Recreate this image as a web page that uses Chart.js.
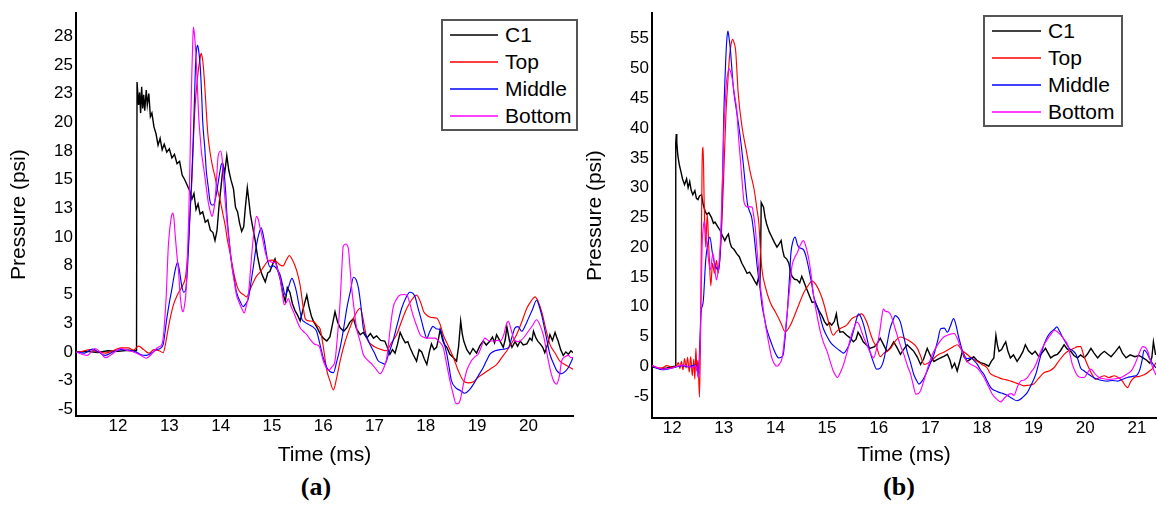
<!DOCTYPE html>
<html>
<head>
<meta charset="utf-8">
<script src="https://cdn.jsdelivr.net/npm/chart.js@4.4.1/dist/chart.umd.min.js"></script>
<style>
  html, body { margin: 0; padding: 0; background: #fff; }
  #wrap { position: relative; width: 1157px; height: 506px; overflow: hidden; font-family: "Liberation Sans", Arial, sans-serif; }
  canvas { position: absolute; top: 0; }
  .legend { position: absolute; border: 2px solid #555; background: #fff; box-sizing: border-box; }
  .legend .row { display: flex; align-items: center; height: 27px; font-size: 21px; color: #000; }
  .legend .swatch { height: 2px; margin-right: 7px; }
  .panel-label { position: absolute; font-family: "Liberation Serif", "Times New Roman", serif; font-weight: bold; font-size: 26px; transform: translate(-50%, -50%); }
</style>
</head>
<body>
<div id="wrap">
  <canvas id="chartA" width="580" height="470" style="left:0px"></canvas>
  <canvas id="chartB" width="577" height="470" style="left:580px"></canvas>
  <div class="legend" id="legendA" style="left:441px; top:19px; width:137px; height:112px;"></div>
  <div class="legend" id="legendB" style="left:983px; top:15px; width:140px; height:112px;"></div>
  <div class="panel-label" style="left:316px; top:487px;">(a)</div>
  <div class="panel-label" style="left:899px; top:487px;">(b)</div>
</div>
<script>
// =========================
// SERIES NAMES / COLOURS
// =========================
const seriesNames = ["C1", "Top", "Middle", "Bottom"];
const seriesColors = ["#000000", "#ff0000", "#0000ff", "#ff00ff"];

// =========================
// PANEL (a) DATA  [time ms, pressure psi]
// =========================
const aC1 = [[11.18,0.0],[11.4,0.05],[11.6,-0.05],[11.8,0.1],[12.0,0.05],[12.2,0.15],[12.36,0.1],[12.37,23.5],[12.40,21.5],[12.42,22.6],[12.44,20.8],[12.46,23.1],[12.48,21.2],[12.50,22.4],[12.52,21.0],[12.55,22.8],[12.57,21.5],[12.60,22.5],[12.63,20.5],[12.66,20.8],[12.70,19.6],[12.74,19.0],[12.78,18.0],[12.82,18.6],[12.86,17.6],[12.90,18.1],[12.95,17.4],[13.00,17.7],[13.05,16.9],[13.10,17.2],[13.15,16.4],[13.20,16.6],[13.25,15.4],[13.30,15.0],[13.35,14.5],[13.40,14.0],[13.44,13.3],[13.48,13.8],[13.52,12.4],[13.56,12.9],[13.60,12.0],[13.65,12.2],[13.70,11.3],[13.75,11.5],[13.80,10.6],[13.85,10.4],[13.89,9.7],[13.93,10.6],[13.97,12.8],[14.01,14.5],[14.05,16.2],[14.08,15.6],[14.12,17.1],[14.16,15.8],[14.20,15.0],[14.25,14.2],[14.29,12.6],[14.33,12.2],[14.37,11.2],[14.41,10.5],[14.45,10.9],[14.48,12.5],[14.52,14.3],[14.55,13.2],[14.58,12.0],[14.62,11.0],[14.67,9.8],[14.72,8.3],[14.77,7.2],[14.82,6.6],[14.87,6.1],[14.92,6.9],[14.96,7.0],[15.01,7.6],[15.06,8.1],[15.11,7.2],[15.16,6.4],[15.21,5.2],[15.26,4.4],[15.30,5.6],[15.35,5.2],[15.40,4.2],[15.45,3.6],[15.50,3.2],[15.55,2.7],[15.60,3.6],[15.64,4.3],[15.68,4.95],[15.72,4.0],[15.77,3.1],[15.81,2.66],[15.87,2.2],[15.94,1.6],[16.00,1.2],[16.07,0.95],[16.13,1.3],[16.18,2.4],[16.23,3.5],[16.28,2.6],[16.33,2.1],[16.40,1.8],[16.46,2.1],[16.52,2.6],[16.59,2.9],[16.65,2.0],[16.72,1.5],[16.78,1.7],[16.85,1.2],[16.92,1.6],[16.98,1.2],[17.04,1.4],[17.12,1.0],[17.20,0.95],[17.25,0.4],[17.30,-0.2],[17.35,0.2],[17.40,-0.1],[17.45,0.7],[17.50,1.7],[17.55,1.2],[17.60,0.8],[17.65,0.9],[17.69,0.4],[17.75,-0.2],[17.82,-0.8],[17.87,0.2],[17.92,0.0],[17.97,-0.6],[18.02,-1.1],[18.07,0.0],[18.11,0.7],[18.16,0.2],[18.21,0.4],[18.25,1.2],[18.28,1.95],[18.33,1.0],[18.37,0.6],[18.41,0.4],[18.47,-0.2],[18.54,-0.5],[18.60,-0.8],[18.64,0.5],[18.68,2.7],[18.71,1.6],[18.74,0.95],[18.80,0.2],[18.86,-0.2],[18.92,0.3],[18.99,-0.1],[19.05,0.5],[19.12,0.95],[19.18,0.6],[19.25,0.95],[19.30,1.3],[19.34,0.8],[19.38,1.5],[19.44,1.0],[19.51,0.4],[19.55,1.1],[19.58,2.2],[19.63,1.0],[19.68,0.4],[19.74,0.9],[19.79,0.5],[19.84,0.95],[19.90,0.6],[19.97,0.7],[20.03,1.2],[20.07,1.0],[20.10,1.8],[20.15,1.2],[20.19,0.9],[20.23,0.7],[20.28,0.4],[20.32,-0.06],[20.37,0.6],[20.42,1.5],[20.47,1.0],[20.52,1.7],[20.55,1.3],[20.58,0.95],[20.63,0.2],[20.68,-0.3],[20.73,0.0],[20.78,-0.2],[20.83,0.1],[20.87,-0.06]];

const aTop = [[11.18,0.0],[11.3,0.05],[11.45,0.2],[11.6,0.0],[11.75,-0.1],[11.9,0.1],[12.05,0.35],[12.2,0.35],[12.3,0.15],[12.4,0.5],[12.5,0.2],[12.6,-0.1],[12.7,0.2],[12.8,0.1],[12.88,-0.06],[12.93,0.8],[12.98,2.1],[13.03,3.2],[13.08,4.1],[13.15,4.9],[13.21,5.4],[13.26,5.8],[13.31,6.4],[13.34,7.5],[13.37,9.2],[13.40,12.0],[13.44,15.0],[13.47,18.5],[13.50,21.3],[13.54,23.5],[13.57,24.7],[13.60,25.6],[13.62,26.0],[13.64,25.7],[13.66,25.0],[13.69,23.2],[13.72,21.0],[13.75,19.0],[13.79,17.5],[13.84,16.2],[13.89,15.25],[13.94,14.1],[13.99,13.2],[14.04,12.1],[14.09,11.0],[14.13,9.8],[14.18,8.7],[14.23,7.5],[14.28,6.4],[14.33,5.6],[14.38,5.2],[14.44,5.0],[14.51,4.8],[14.57,5.4],[14.64,6.1],[14.70,6.6],[14.77,6.95],[14.85,7.5],[14.93,7.95],[15.00,8.0],[15.08,7.9],[15.15,7.6],[15.22,7.5],[15.28,8.0],[15.34,8.4],[15.40,8.0],[15.45,7.5],[15.50,6.8],[15.55,5.8],[15.60,4.2],[15.65,2.9],[15.72,2.7],[15.81,2.66],[15.88,2.3],[15.94,2.0],[16.0,0.5],[16.07,-1.6],[16.13,-2.5],[16.20,-3.3],[16.26,-2.3],[16.33,-0.77],[16.42,0.8],[16.52,2.1],[16.62,3.2],[16.72,3.8],[16.78,2.8],[16.85,1.2],[16.95,0.6],[17.04,0.37],[17.14,0.2],[17.23,0.1],[17.33,0.8],[17.43,1.5],[17.53,2.7],[17.63,3.8],[17.72,4.5],[17.82,4.95],[17.90,4.3],[17.96,3.5],[18.02,3.2],[18.11,3.0],[18.21,2.95],[18.28,2.4],[18.34,1.5],[18.44,0.5],[18.54,-0.5],[18.63,-1.6],[18.73,-2.5],[18.83,-2.7],[18.93,-2.6],[19.02,-2.2],[19.12,-1.9],[19.25,-1.5],[19.38,-1.1],[19.48,-0.5],[19.58,0.1],[19.68,0.8],[19.77,1.5],[19.87,2.6],[19.97,3.8],[20.05,4.4],[20.13,4.8],[20.19,4.4],[20.26,3.5],[20.34,2.0],[20.42,0.66],[20.52,-0.1],[20.61,-0.77],[20.71,-1.1],[20.81,-1.35],[20.87,-1.5]];

const aMid = [[11.18,0.0],[11.35,-0.1],[11.5,0.25],[11.65,-0.1],[11.75,-0.3],[11.9,0.0],[12.05,0.2],[12.2,0.15],[12.35,0.0],[12.45,-0.25],[12.55,-0.3],[12.65,-0.1],[12.75,0.2],[12.82,0.3],[12.88,0.66],[12.95,2.9],[13.00,4.3],[13.05,5.5],[13.10,6.8],[13.16,7.8],[13.20,7.0],[13.24,5.8],[13.28,5.2],[13.32,5.4],[13.36,7.8],[13.39,10.7],[13.43,14.5],[13.46,17.8],[13.49,22.0],[13.51,25.0],[13.53,26.3],[13.55,26.7],[13.57,26.3],[13.60,25.0],[13.63,22.4],[13.65,20.1],[13.69,17.8],[13.72,15.8],[13.76,14.3],[13.79,13.2],[13.83,12.8],[13.86,12.8],[13.91,13.6],[13.95,14.7],[13.99,15.8],[14.02,16.4],[14.05,16.2],[14.07,15.5],[14.10,13.8],[14.12,12.1],[14.17,9.6],[14.22,7.5],[14.27,6.2],[14.31,5.2],[14.38,4.4],[14.44,3.95],[14.49,4.2],[14.54,4.65],[14.59,6.0],[14.64,7.5],[14.68,8.8],[14.72,9.8],[14.76,10.5],[14.79,10.8],[14.83,10.2],[14.87,9.2],[14.91,8.1],[14.96,7.4],[15.03,7.5],[15.10,7.2],[15.16,6.7],[15.21,5.8],[15.26,4.95],[15.32,5.6],[15.39,6.4],[15.44,5.9],[15.48,5.2],[15.53,4.0],[15.58,2.9],[15.64,2.6],[15.71,2.4],[15.79,2.2],[15.87,1.8],[15.94,0.6],[16.0,-0.5],[16.07,-1.35],[16.13,-1.7],[16.20,-1.8],[16.26,-0.9],[16.33,0.37],[16.40,2.1],[16.46,3.8],[16.53,5.3],[16.59,6.5],[16.64,6.3],[16.69,5.5],[16.74,3.8],[16.78,2.1],[16.85,1.3],[16.91,0.66],[17.0,-0.1],[17.07,-0.77],[17.14,-0.95],[17.20,-1.06],[17.28,-0.1],[17.36,0.95],[17.45,2.5],[17.53,3.8],[17.61,4.7],[17.69,5.2],[17.75,5.1],[17.79,4.8],[17.85,3.8],[17.92,2.66],[17.97,1.8],[18.02,1.2],[18.08,1.8],[18.14,2.23],[18.21,2.0],[18.28,1.95],[18.35,0.9],[18.41,-0.2],[18.46,-1.5],[18.50,-2.5],[18.58,-3.1],[18.67,-3.35],[18.76,-3.6],[18.85,-3.3],[18.93,-2.8],[19.02,-2.1],[19.12,-1.35],[19.18,-0.8],[19.25,-0.2],[19.35,0.1],[19.45,0.2],[19.53,0.25],[19.61,0.37],[19.68,1.3],[19.74,2.1],[19.80,2.2],[19.87,1.8],[19.94,2.3],[20.0,2.9],[20.08,3.7],[20.16,4.5],[20.21,4.0],[20.26,3.2],[20.34,1.5],[20.42,-0.2],[20.49,-1.0],[20.55,-1.6],[20.65,-1.9],[20.72,-1.7],[20.78,-1.35],[20.83,-0.9],[20.87,-0.5]];

const aBot = [[11.18,0.0],[11.3,-0.2],[11.4,-0.3],[11.55,0.3],[11.65,0.0],[11.75,-0.5],[11.85,-0.3],[12.0,0.2],[12.05,0.3],[12.2,0.1],[12.3,0.0],[12.45,-0.3],[12.55,-0.55],[12.65,-0.2],[12.75,0.3],[12.8,0.45],[12.85,0.6],[12.88,1.2],[12.91,2.8],[12.94,4.95],[12.96,7.2],[12.98,9.2],[13.01,10.8],[13.03,11.5],[13.05,12.0],[13.07,12.1],[13.09,11.6],[13.11,10.4],[13.14,8.8],[13.18,6.95],[13.21,5.0],[13.24,3.8],[13.27,3.5],[13.30,4.2],[13.32,4.95],[13.35,8.0],[13.38,12.1],[13.40,16.0],[13.42,20.7],[13.44,24.5],[13.46,27.5],[13.47,28.3],[13.49,27.6],[13.52,25.8],[13.55,22.8],[13.57,20.7],[13.60,18.8],[13.63,17.25],[13.67,16.0],[13.70,15.0],[13.76,13.0],[13.80,12.2],[13.83,11.8],[13.86,12.2],[13.89,13.2],[13.92,15.0],[13.95,17.0],[14.0,17.5],[14.03,16.8],[14.05,15.5],[14.08,13.6],[14.12,11.5],[14.17,9.4],[14.22,7.5],[14.27,6.0],[14.31,4.95],[14.36,4.3],[14.41,3.8],[14.46,3.4],[14.50,4.0],[14.54,4.95],[14.58,7.0],[14.62,9.2],[14.66,10.8],[14.70,11.8],[14.73,11.6],[14.76,11.0],[14.82,9.8],[14.87,8.7],[14.92,8.0],[14.96,7.9],[15.01,7.8],[15.06,7.8],[15.11,7.2],[15.16,6.4],[15.20,5.2],[15.24,4.1],[15.28,4.3],[15.32,4.65],[15.37,4.0],[15.42,3.5],[15.48,2.8],[15.55,2.1],[15.61,1.8],[15.68,1.5],[15.76,1.0],[15.84,0.66],[15.92,0.5],[16.0,-0.77],[16.05,-1.3],[16.10,-1.6],[16.17,-1.3],[16.23,-0.77],[16.28,1.5],[16.33,4.4],[16.36,7.0],[16.39,9.2],[16.44,9.4],[16.49,9.0],[16.52,7.5],[16.55,5.8],[16.60,3.8],[16.65,2.1],[16.72,0.9],[16.78,-0.2],[16.86,-0.7],[16.95,-1.06],[17.03,-1.5],[17.11,-1.9],[17.18,-1.4],[17.24,-0.5],[17.30,1.8],[17.36,3.8],[17.43,4.6],[17.50,4.95],[17.57,5.0],[17.63,4.95],[17.69,4.2],[17.75,3.2],[17.82,2.3],[17.89,1.5],[17.95,1.3],[18.02,1.2],[18.10,1.2],[18.18,1.2],[18.26,0.9],[18.34,0.37],[18.40,-0.9],[18.47,-2.5],[18.53,-3.6],[18.59,-4.5],[18.63,-4.5],[18.67,-4.2],[18.73,-2.9],[18.80,-1.6],[18.89,-0.77],[18.96,-0.4],[19.02,-0.2],[19.08,0.4],[19.15,1.2],[19.22,1.0],[19.32,0.95],[19.40,1.0],[19.45,0.95],[19.52,1.5],[19.57,2.4],[19.61,2.66],[19.66,2.0],[19.71,1.2],[19.78,0.9],[19.84,0.95],[19.92,1.3],[20.0,1.8],[20.08,2.3],[20.16,2.8],[20.22,2.4],[20.29,1.5],[20.34,0.4],[20.39,-0.77],[20.44,-1.8],[20.49,-2.5],[20.55,-2.8],[20.60,-2.2],[20.65,-0.77],[20.72,-0.4],[20.78,-0.3],[20.83,-0.5],[20.87,-0.5]];

// =========================
// PANEL (b) DATA  [time ms, pressure psi]
// =========================
const bC1 = [[11.61,-0.1],[11.75,-0.4],[11.9,-0.3],[12.0,-0.1],[12.06,0.0],[12.07,37.5],[12.08,39.0],[12.09,37.6],[12.11,35.4],[12.14,33.8],[12.17,32.7],[12.20,31.5],[12.24,30.5],[12.28,31.5],[12.31,30.0],[12.34,31.0],[12.37,29.5],[12.40,28.8],[12.44,29.5],[12.47,28.2],[12.50,28.0],[12.53,28.6],[12.57,28.8],[12.60,27.2],[12.64,26.0],[12.67,25.5],[12.71,25.8],[12.76,25.0],[12.80,24.0],[12.83,24.2],[12.88,23.5],[12.93,22.8],[12.97,22.0],[13.02,21.1],[13.06,21.8],[13.09,22.2],[13.12,20.8],[13.15,20.0],[13.20,19.6],[13.25,18.9],[13.30,18.4],[13.35,17.3],[13.40,16.5],[13.45,15.6],[13.50,15.8],[13.55,15.1],[13.60,14.3],[13.64,13.7],[13.67,14.8],[13.70,14.0],[13.715,20.0],[13.725,27.5],[13.77,26.7],[13.80,25.0],[13.83,23.9],[13.88,22.6],[13.93,21.7],[13.98,20.8],[14.03,20.0],[14.07,20.5],[14.11,21.1],[14.14,19.5],[14.17,18.4],[14.22,18.0],[14.26,17.3],[14.29,16.0],[14.32,15.1],[14.37,14.6],[14.42,14.5],[14.47,14.0],[14.51,15.1],[14.56,14.0],[14.61,12.9],[14.66,11.8],[14.71,10.7],[14.76,10.8],[14.80,10.2],[14.85,9.2],[14.90,8.5],[14.95,7.5],[15.0,6.9],[15.05,7.3],[15.09,6.9],[15.14,7.5],[15.18,8.8],[15.21,7.0],[15.25,5.7],[15.31,5.8],[15.38,5.2],[15.44,4.8],[15.51,4.1],[15.56,4.5],[15.60,5.7],[15.65,5.0],[15.70,4.1],[15.77,3.5],[15.83,3.0],[15.92,3.3],[15.97,3.8],[16.03,4.7],[16.10,3.5],[16.16,2.5],[16.22,3.0],[16.29,4.1],[16.35,3.2],[16.42,2.0],[16.48,2.8],[16.55,3.6],[16.62,3.0],[16.68,2.5],[16.75,1.5],[16.81,0.3],[16.87,1.2],[16.94,3.0],[17.0,1.8],[17.07,0.8],[17.13,1.1],[17.20,1.4],[17.27,1.7],[17.33,2.0],[17.38,1.0],[17.42,-0.3],[17.47,0.5],[17.52,-0.8],[17.57,0.8],[17.62,2.5],[17.66,1.8],[17.71,0.8],[17.78,1.2],[17.84,1.6],[17.90,1.0],[17.97,0.6],[18.05,0.4],[18.13,0.0],[18.18,0.8],[18.23,1.4],[18.27,5.2],[18.30,3.5],[18.33,2.5],[18.38,2.8],[18.42,3.5],[18.46,4.1],[18.50,2.6],[18.55,1.4],[18.61,1.9],[18.68,0.8],[18.74,1.6],[18.79,2.4],[18.84,3.6],[18.90,2.6],[18.97,2.0],[19.03,2.5],[19.10,1.6],[19.16,2.2],[19.23,3.0],[19.28,2.2],[19.33,1.4],[19.40,1.8],[19.46,2.0],[19.52,2.6],[19.59,3.6],[19.65,2.9],[19.72,2.5],[19.78,1.8],[19.85,1.4],[19.91,1.9],[19.98,1.4],[20.04,2.0],[20.11,3.0],[20.17,2.2],[20.24,1.4],[20.30,2.0],[20.37,2.5],[20.44,2.0],[20.50,1.6],[20.58,2.4],[20.66,3.3],[20.72,2.2],[20.79,1.4],[20.87,1.9],[20.96,1.6],[21.04,1.8],[21.12,1.4],[21.19,1.0],[21.25,0.5],[21.29,1.5],[21.32,4.1],[21.36,2.0],[21.37,2.0]];

const bTop = [[11.61,0.2],[11.7,-0.2],[11.8,-0.3],[11.9,0.1],[12.0,-0.2],[12.08,0.0],[12.12,0.6],[12.15,-0.4],[12.18,0.8],[12.21,-0.6],[12.24,1.3],[12.27,-0.3],[12.30,1.5],[12.33,-1.0],[12.36,1.6],[12.39,-1.6],[12.42,1.2],[12.44,-2.2],[12.46,3.0],[12.48,-0.8],[12.50,1.0],[12.53,-5.2],[12.55,5.8],[12.58,33.8],[12.60,36.8],[12.62,27.7],[12.65,20.0],[12.68,25.5],[12.71,20.0],[12.75,13.5],[12.78,17.3],[12.82,15.6],[12.86,17.8],[12.89,15.6],[12.94,20.0],[12.99,29.9],[13.04,42.0],[13.08,48.0],[13.11,51.9],[13.14,54.0],[13.17,54.9],[13.20,54.3],[13.23,53.0],[13.28,45.8],[13.35,40.4],[13.43,36.5],[13.51,32.7],[13.59,29.6],[13.64,26.5],[13.68,23.9],[13.71,19.5],[13.74,16.2],[13.80,13.5],[13.90,10.7],[14.0,9.1],[14.1,7.4],[14.19,5.8],[14.29,6.9],[14.42,9.6],[14.55,12.4],[14.63,13.5],[14.71,14.3],[14.80,13.5],[14.87,12.2],[14.93,10.7],[15.03,7.4],[15.12,5.2],[15.18,5.8],[15.25,6.3],[15.38,6.9],[15.48,8.0],[15.60,8.5],[15.67,8.8],[15.77,7.4],[15.84,5.5],[15.90,4.1],[15.96,3.2],[16.03,1.6],[16.10,2.2],[16.16,2.5],[16.23,3.0],[16.33,4.3],[16.42,4.9],[16.52,4.6],[16.62,4.1],[16.75,3.0],[16.82,1.5],[16.88,0.3],[16.95,0.5],[17.01,0.8],[17.09,1.5],[17.17,2.0],[17.25,2.3],[17.33,2.7],[17.43,3.2],[17.52,3.6],[17.61,2.7],[17.71,2.0],[17.81,1.3],[17.91,0.8],[18.0,0.3],[18.1,-0.3],[18.16,-1.2],[18.23,-1.6],[18.32,-1.9],[18.42,-2.2],[18.52,-2.4],[18.62,-2.7],[18.72,-3.0],[18.81,-3.3],[18.9,-3.2],[19.0,-3.0],[19.1,-2.0],[19.2,-1.1],[19.3,-0.8],[19.39,-0.3],[19.49,0.9],[19.59,2.0],[19.68,2.6],[19.78,3.0],[19.85,3.3],[19.91,3.3],[19.97,1.8],[20.04,0.3],[20.12,-1.2],[20.2,-2.2],[20.28,-1.9],[20.37,-1.6],[20.46,-1.9],[20.56,-1.6],[20.64,-1.9],[20.72,-2.5],[20.77,-3.2],[20.82,-3.6],[20.88,-2.6],[20.95,-1.9],[21.05,-1.7],[21.15,-1.4],[21.23,-0.9],[21.31,-0.3],[21.37,0.6]];

const bMid = [[11.61,0.0],[11.7,-0.3],[11.8,-0.6],[11.9,-0.5],[12.0,-0.3],[12.1,-0.1],[12.2,0.1],[12.3,-0.1],[12.4,0.1],[12.46,0.2],[12.49,-0.8],[12.51,-1.9],[12.53,2.5],[12.56,9.1],[12.60,10.7],[12.65,17.8],[12.69,20.5],[12.73,21.7],[12.78,19.0],[12.84,16.8],[12.90,16.2],[12.93,19.0],[12.96,25.5],[12.98,33.0],[13.00,42.0],[13.02,47.5],[13.04,51.9],[13.06,55.0],[13.08,56.3],[13.10,55.3],[13.13,53.0],[13.16,49.5],[13.19,46.4],[13.24,43.3],[13.29,40.4],[13.34,37.0],[13.38,33.8],[13.42,30.2],[13.46,27.2],[13.50,26.0],[13.54,25.0],[13.58,22.5],[13.61,20.0],[13.64,17.3],[13.67,15.1],[13.71,12.5],[13.74,10.2],[13.79,8.0],[13.83,6.3],[13.90,4.4],[13.96,3.0],[14.01,2.0],[14.06,1.4],[14.11,1.5],[14.15,1.9],[14.19,5.0],[14.23,9.1],[14.27,14.5],[14.30,19.0],[14.34,21.0],[14.38,21.7],[14.42,20.6],[14.45,20.0],[14.50,19.8],[14.55,19.5],[14.60,18.2],[14.65,16.2],[14.70,14.0],[14.74,11.8],[14.79,10.4],[14.84,9.1],[14.88,7.8],[14.93,6.3],[15.0,5.0],[15.06,4.1],[15.12,3.5],[15.19,3.0],[15.25,2.6],[15.32,2.2],[15.38,2.8],[15.45,4.1],[15.52,6.2],[15.58,8.2],[15.61,8.8],[15.66,8.2],[15.71,6.9],[15.77,4.8],[15.83,2.5],[15.90,0.6],[15.96,-0.5],[16.02,-0.4],[16.09,0.8],[16.15,3.2],[16.22,6.3],[16.28,7.8],[16.32,8.5],[16.37,8.2],[16.42,7.4],[16.48,5.2],[16.55,2.5],[16.62,0.5],[16.68,-1.4],[16.74,-2.5],[16.78,-3.0],[16.84,-2.5],[16.91,-1.4],[17.0,0.5],[17.07,2.0],[17.14,4.2],[17.20,6.3],[17.27,6.4],[17.33,5.7],[17.39,6.8],[17.45,8.0],[17.50,6.8],[17.54,5.2],[17.60,3.2],[17.66,1.4],[17.73,1.3],[17.79,1.4],[17.85,0.9],[17.91,0.3],[17.97,-0.6],[18.04,-1.4],[18.10,-2.5],[18.17,-3.6],[18.25,-4.1],[18.33,-4.4],[18.41,-4.6],[18.49,-4.9],[18.58,-5.4],[18.68,-5.8],[18.78,-5.3],[18.88,-4.4],[18.96,-3.0],[19.04,-1.4],[19.12,1.2],[19.20,3.6],[19.27,5.0],[19.33,5.7],[19.40,6.2],[19.45,6.6],[19.50,5.9],[19.56,4.9],[19.62,4.0],[19.69,3.0],[19.76,2.6],[19.82,2.0],[19.87,0.8],[19.91,-0.3],[19.98,-0.8],[20.07,-1.4],[20.16,-1.9],[20.24,-2.2],[20.33,-2.4],[20.43,-2.5],[20.53,-2.4],[20.63,-2.5],[20.72,-2.2],[20.82,-1.9],[20.92,-1.7],[21.01,-1.4],[21.06,-0.5],[21.10,1.0],[21.14,2.7],[21.19,2.3],[21.24,1.4],[21.30,0.5],[21.37,-0.3]];

const bBot = [[11.61,0.1],[11.7,-0.2],[11.8,-0.5],[11.9,-0.4],[12.0,-0.3],[12.1,0.0],[12.2,0.2],[12.3,0.0],[12.4,-0.2],[12.45,0.1],[12.48,-0.5],[12.51,-1.9],[12.53,1.0],[12.55,5.8],[12.58,20.0],[12.60,23.0],[12.62,24.4],[12.65,22.5],[12.68,20.0],[12.71,17.5],[12.74,16.2],[12.79,19.0],[12.83,16.0],[12.86,14.5],[12.90,16.8],[12.93,20.0],[12.95,24.4],[12.98,33.0],[13.00,39.3],[13.03,44.5],[13.05,47.5],[13.08,49.3],[13.10,50.0],[13.13,49.5],[13.16,48.5],[13.20,46.0],[13.25,43.1],[13.29,38.0],[13.33,33.8],[13.36,30.5],[13.39,27.7],[13.43,26.9],[13.46,26.7],[13.50,26.8],[13.55,26.7],[13.58,25.2],[13.61,23.3],[13.64,20.0],[13.67,16.8],[13.70,14.0],[13.74,11.3],[13.78,8.5],[13.83,5.8],[13.88,3.5],[13.93,1.4],[13.98,0.4],[14.03,0.0],[14.08,0.4],[14.13,1.4],[14.18,5.0],[14.23,9.1],[14.28,13.5],[14.32,16.8],[14.37,18.2],[14.42,19.0],[14.48,20.3],[14.54,21.1],[14.60,19.8],[14.65,17.8],[14.70,14.8],[14.74,11.8],[14.80,8.8],[14.87,5.8],[14.93,4.0],[15.0,2.5],[15.06,0.8],[15.12,-0.8],[15.17,-1.6],[15.20,-1.9],[15.26,-1.0],[15.32,0.3],[15.39,2.4],[15.45,4.6],[15.51,6.2],[15.58,7.4],[15.62,7.0],[15.67,5.8],[15.72,4.6],[15.77,3.6],[15.83,2.4],[15.90,1.4],[15.96,3.0],[16.02,5.8],[16.06,8.3],[16.09,9.6],[16.14,9.2],[16.19,9.1],[16.24,8.5],[16.32,6.3],[16.40,4.0],[16.49,1.9],[16.56,0.0],[16.62,-1.4],[16.67,-3.2],[16.72,-4.7],[16.77,-4.6],[16.81,-4.1],[16.89,-2.0],[16.97,0.3],[17.03,1.8],[17.10,3.0],[17.18,4.1],[17.26,4.9],[17.36,5.3],[17.46,5.5],[17.53,4.5],[17.59,3.0],[17.65,1.8],[17.71,0.8],[17.81,0.2],[17.91,-0.3],[17.98,-1.1],[18.04,-1.9],[18.12,-3.3],[18.20,-4.7],[18.28,-5.5],[18.36,-6.0],[18.44,-5.3],[18.52,-4.7],[18.57,-4.6],[18.62,-4.9],[18.68,-3.6],[18.75,-2.5],[18.82,-2.3],[18.88,-1.9],[18.95,-1.0],[19.01,-0.3],[19.08,1.1],[19.14,2.5],[19.20,3.6],[19.27,4.6],[19.33,5.3],[19.40,6.0],[19.46,5.8],[19.53,5.2],[19.60,4.4],[19.66,3.6],[19.71,1.8],[19.75,0.3],[19.80,-0.8],[19.85,-1.6],[19.92,-1.9],[19.98,-1.9],[20.05,-1.0],[20.11,-0.5],[20.19,-1.3],[20.27,-1.9],[20.36,-2.1],[20.46,-2.2],[20.58,-2.1],[20.69,-1.9],[20.79,-1.4],[20.89,-0.8],[20.96,0.3],[21.01,1.4],[21.06,2.5],[21.11,3.3],[21.16,3.2],[21.21,2.5],[21.26,1.0],[21.31,-0.3],[21.37,-1.5]];

// =========================
// TICKS
// =========================
const aXTicks = [12, 13, 14, 15, 16, 17, 18, 19, 20];
const aYTicks = [-5, -2.5, 0, 2.5, 5, 7.5, 10, 12.5, 15, 17.5, 20, 22.5, 25, 27.5];
const bXTicks = [12, 13, 14, 15, 16, 17, 18, 19, 20, 21];
const bYTicks = [-5, 0, 5, 10, 15, 20, 25, 30, 35, 40, 45, 50, 55];

// =========================
// BUILD ONE PANEL
// =========================
function roundAway(v) {
    return Math.sign(v) * Math.round(Math.abs(v));
}

function makePanel(canvasId, series, opt) {
    const datasets = series.map((s, i) => ({
        label: seriesNames[i],
        data: s.map(p => ({ x: p[0], y: p[1] })),
        borderColor: seriesColors[i],
        borderWidth: i === 0 ? 1.4 : 1.15,
        pointRadius: 0,
        fill: false,
        tension: 0,
        cubicInterpolationMode: i === 0 ? "default" : "monotone"
    }));

    return new Chart(document.getElementById(canvasId), {
        type: "line",
        data: { datasets: datasets.slice().reverse() },
        options: {
            responsive: false,
            animation: false,
            devicePixelRatio: 1,
            layout: { padding: opt.padding },
            plugins: { legend: { display: false }, tooltip: { enabled: false } },
            scales: {
                x: {
                    type: "linear",
                    min: opt.xMin,
                    max: opt.xMax,
                    grid: { display: false, drawTicks: false },
                    border: { display: true, color: "#000", width: 2 },
                    afterBuildTicks: s => { s.ticks = opt.xTicks.map(v => ({ value: v })); },
                    afterFit: s => { s.height = opt.xHeight; },
                    ticks: {
                        autoSkip: false, maxRotation: 0, padding: 0, color: "#000",
                        font: { family: "Liberation Sans, Arial, sans-serif", size: 17 },
                        callback: v => String(v)
                    },
                    title: {
                        display: true, text: "Time (ms)", color: "#000",
                        font: { family: "Liberation Sans, Arial, sans-serif", size: 21 },
                        padding: { top: 0, bottom: 2 }
                    }
                },
                y: {
                    type: "linear",
                    min: opt.yMin,
                    max: opt.yMax,
                    grid: { display: false, drawTicks: false },
                    border: { display: true, color: "#000", width: 2 },
                    afterBuildTicks: s => { s.ticks = opt.yTicks.map(v => ({ value: v })); },
                    afterFit: s => { s.width = opt.yWidth; },
                    ticks: {
                        autoSkip: false, padding: 3, color: "#000",
                        font: { family: "Liberation Sans, Arial, sans-serif", size: 17 },
                        callback: v => String(roundAway(v))
                    },
                    title: {
                        display: true, text: "Pressure (psi)", color: "#000",
                        font: { family: "Liberation Sans, Arial, sans-serif", size: 21 },
                        padding: { top: opt.yTitlePad, bottom: 0 }
                    }
                }
            }
        }
    });
}

// =========================
// HTML LEGEND
// =========================
function makeLegend(elId, lineWidth) {
    const box = document.getElementById(elId);
    seriesNames.forEach((name, i) => {
        const row = document.createElement("div");
        row.className = "row";
        row.innerHTML = `<span class="swatch" style="width:${lineWidth}px; margin-left:7px; background:${seriesColors[i]}; opacity:0.75"></span><span>${name}</span>`;
        box.appendChild(row);
    });
}

makePanel("chartA", [aC1, aTop, aMid, aBot], {
    xMin: 11.18, xMax: 20.87, yMin: -5.58, yMax: 29.5,
    xTicks: aXTicks, yTicks: aYTicks,
    padding: { left: 0, top: 7, right: 7, bottom: 0 },
    yWidth: 76, xHeight: 54, yTitlePad: 7
});

makePanel("chartB", [bC1, bTop, bMid, bBot], {
    xMin: 11.61, xMax: 21.37, yMin: -8.7, yMax: 59.3,
    xTicks: bXTicks, yTicks: bYTicks,
    padding: { left: 0, top: 5, right: 1, bottom: 0 },
    yWidth: 72, xHeight: 52, yTitlePad: 3
});

makeLegend("legendA", 48);
makeLegend("legendB", 49);
</script>
</body>
</html>
